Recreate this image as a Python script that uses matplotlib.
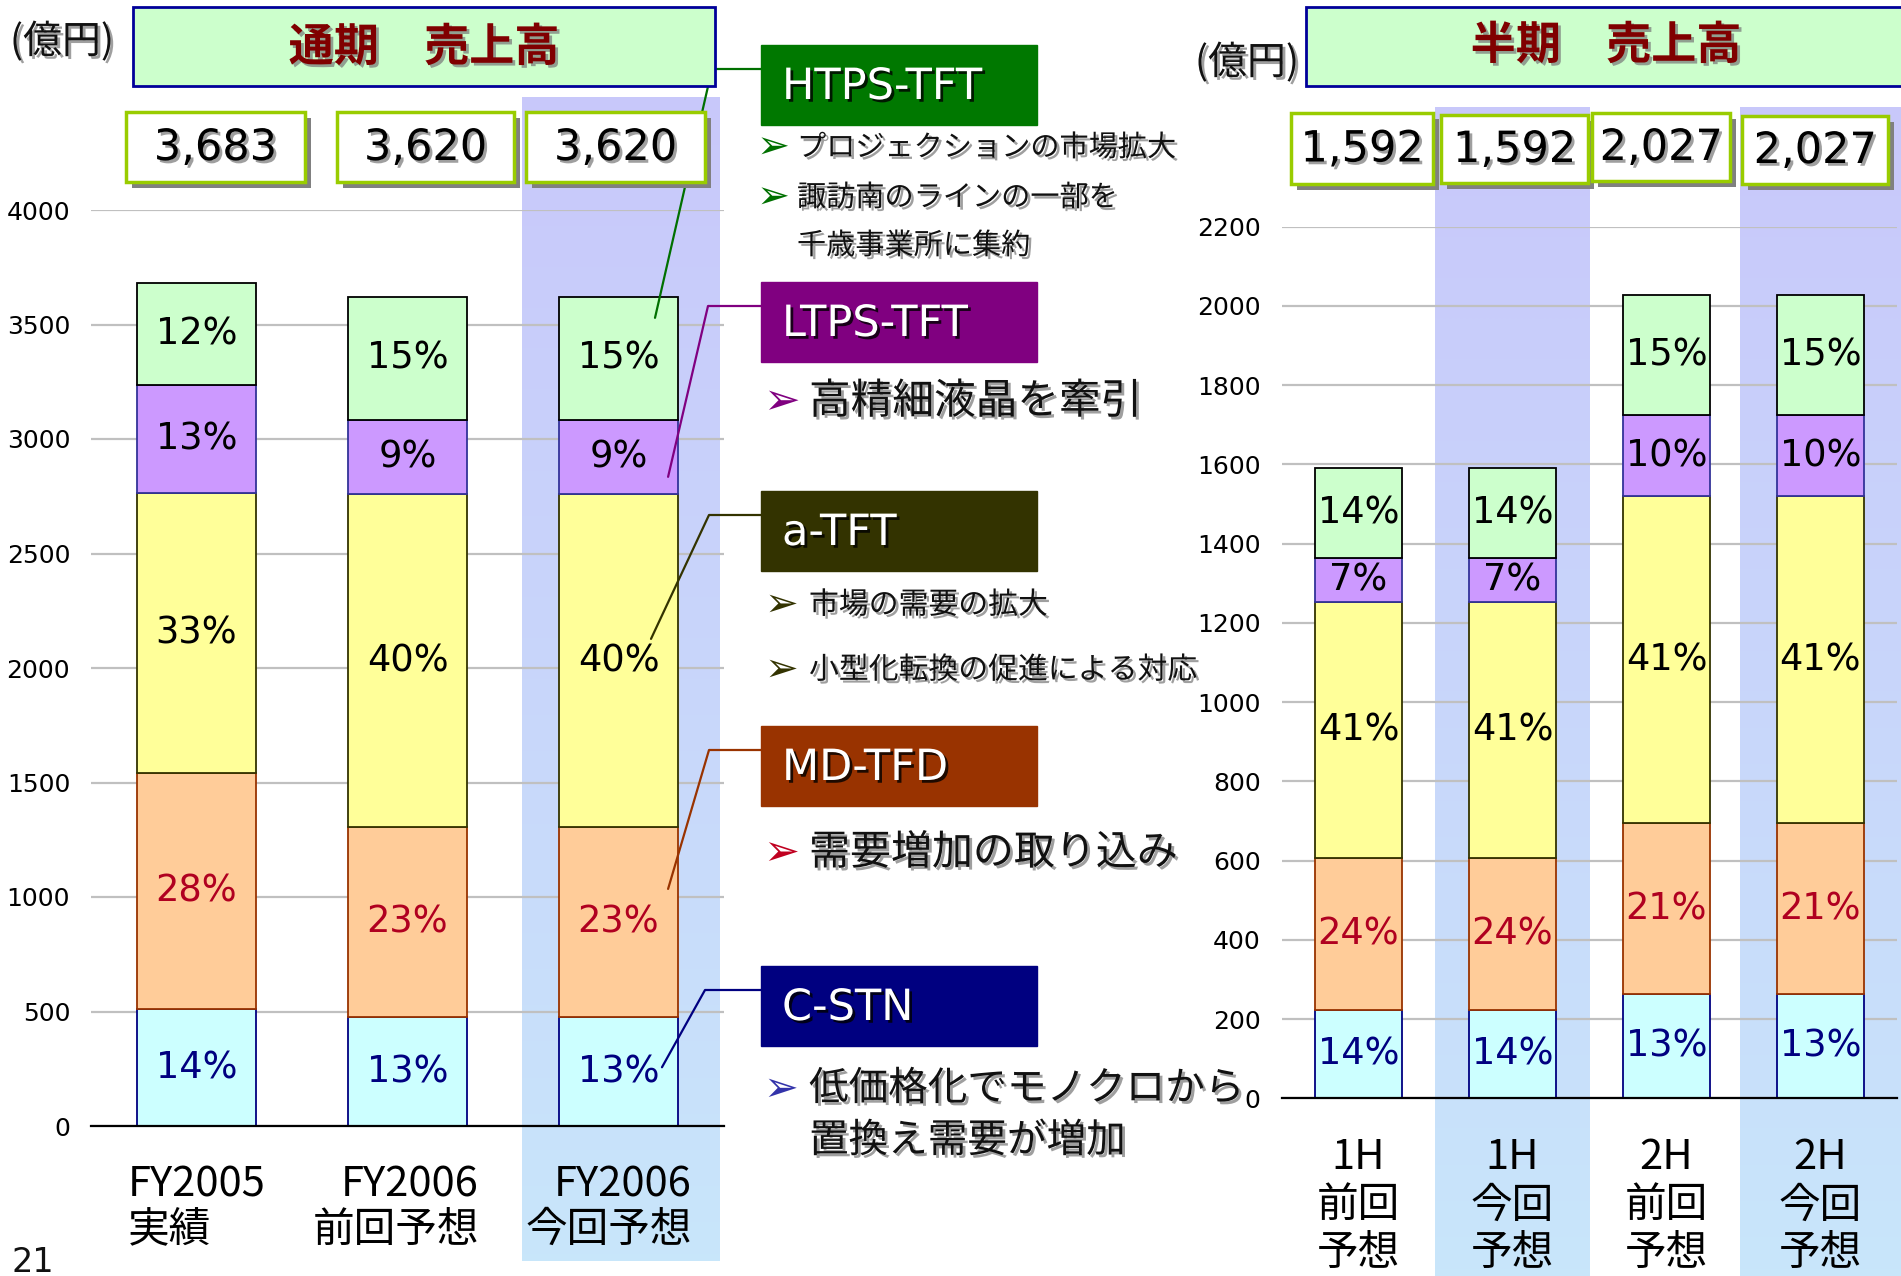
import numpy as np
import matplotlib
matplotlib.use("Agg")
import matplotlib.pyplot as plt
from matplotlib.patches import Rectangle, ConnectionPatch
import matplotlib.patheffects as pe
from matplotlib.colors import LinearSegmentedColormap
from matplotlib.transforms import ScaledTranslation

# ---------------- data ----------------
annual_categories = ["FY2005\n実績", "FY2006\n前回予想", "FY2006\n今回予想"]
annual_totals = [3683, 3620, 3620]
annual_cstn = [510, 475, 475]
annual_md = [1030, 830, 830]
annual_atft = [1225, 1455, 1455]
annual_ltps = [470, 325, 325]
annual_htps = [448, 535, 535]
annual_pct_cstn = [14, 13, 13]
annual_pct_md = [28, 23, 23]
annual_pct_atft = [33, 40, 40]
annual_pct_ltps = [13, 9, 9]
annual_pct_htps = [12, 15, 15]

half_categories = ["1H\n前回\n予想", "1H\n今回\n予想", "2H\n前回\n予想", "2H\n今回\n予想"]
half_totals = [1592, 1592, 2027, 2027]
half_cstn = [222, 222, 264, 264]
half_md = [385, 385, 430, 430]
half_atft = [645, 645, 826, 826]
half_ltps = [112, 112, 205, 205]
half_htps = [228, 228, 302, 302]
half_pct_cstn = [14, 14, 13, 13]
half_pct_md = [24, 24, 21, 21]
half_pct_atft = [41, 41, 41, 41]
half_pct_ltps = [7, 7, 10, 10]
half_pct_htps = [14, 14, 15, 15]

segment_names = ["C-STN", "MD-TFD", "a-TFT", "LTPS-TFT", "HTPS-TFT"]
bullets_htps = ["プロジェクションの市場拡大", "諏訪南のラインの一部を", "千歳事業所に集約"]
bullets_ltps = ["高精細液晶を牽引"]
bullets_atft = ["市場の需要の拡大", "小型化転換の促進による対応"]
bullets_md = ["需要増加の取り込み"]
bullets_cstn = ["低価格化でモノクロから", "置換え需要が増加"]

# ---------------- styles ----------------
JP = ["Noto Sans CJK JP", "DejaVu Sans"]
seg_fill = ["#CCFFFF", "#FFCC99", "#FFFF99", "#CC99FF", "#CCFFCC"]
seg_edge = ["#000080", "#993300", "#333300", "#333399", "#000000"]
pct_color = ["#000080", "#B00020", "#000000", "#000000", "#000000"]
box_color = ["#000080", "#993300", "#333300", "#800080", "#007800"]
line_color = ["#000080", "#993300", "#333300", "#800080", "#007000"]

W, H = 1901, 1276
fig = plt.figure(figsize=(W / 100, H / 100), dpi=100)

def px_axes(x0, x1, y_top, y_bot, **kw):
    return fig.add_axes([x0 / W, 1 - y_bot / H, (x1 - x0) / W, (y_bot - y_top) / H], **kw)

# background layer (highlight bands)
ax_bg = fig.add_axes([0, 0, 1, 1], zorder=0)
ax_bg.set_xlim(0, W)
ax_bg.set_ylim(H, 0)
ax_bg.axis("off")
band_cmap = LinearSegmentedColormap.from_list("band", ["#C8C8FA", "#C8D6FA", "#C8E6FA"])
grad = np.linspace(0, 1, 256).reshape(-1, 1)
for (x0, x1, y0, y1) in [(522, 720, 97, 1261), (1435, 1590, 107, 1276), (1740, 1901, 107, 1276)]:
    ax_bg.imshow(grad, extent=(x0, x1, y1, y0), cmap=band_cmap, aspect="auto",
                 origin="upper", interpolation="bilinear")
ax_bg.set_xlim(0, W)
ax_bg.set_ylim(H, 0)

# ---------------- chart axes ----------------
axL = px_axes(91, 724, 210, 1126, zorder=1)
axR = px_axes(1281.5, 1897.4, 226.7, 1098.4, zorder=1)

def stacked(ax, cats, layers, pcts, ymax, step, tick_fs):
    n = len(cats)
    x = np.arange(n)
    bottom = np.zeros(n)
    for i, (vals, pc) in enumerate(zip(layers, pcts)):
        vals = np.asarray(vals, dtype=float)
        ax.bar(x, vals, 0.56, bottom=bottom, color=seg_fill[i], edgecolor=seg_edge[i],
               linewidth=1.3, zorder=2)
        for xi, b, v, p in zip(x, bottom, vals, pc):
            ax.text(xi, b + v / 2, f"{p}%", ha="center", va="center", fontsize=26.5,
                    color=pct_color[i], family="DejaVu Sans", zorder=3)
        bottom = bottom + vals
    ax.set_xlim(-0.5, n - 0.5)
    ax.set_ylim(0, ymax)
    ax.set_yticks(np.arange(0, ymax + 1, step))
    ax.yaxis.grid(True, color="#C0C0C0", linewidth=1.6, zorder=0)
    ax.set_axisbelow(True)
    ax.patch.set_alpha(0)
    for s in ["top", "right", "left"]:
        ax.spines[s].set_visible(False)
    ax.spines["bottom"].set_linewidth(1.6)
    ax.tick_params(axis="y", length=0, pad=15, labelsize=tick_fs)
    for lbl in ax.get_yticklabels():
        lbl.set_family("DejaVu Sans")
    ax.set_xticks(x)
    ax.tick_params(axis="x", length=0, pad=28)
    return bottom

stacked(axL, annual_categories,
        [annual_cstn, annual_md, annual_atft, annual_ltps, annual_htps],
        [annual_pct_cstn, annual_pct_md, annual_pct_atft, annual_pct_ltps, annual_pct_htps],
        4000, 500, 18)
axL.set_xticklabels(annual_categories, fontsize=30, family=JP, linespacing=1.12)
for lbl, ma, dx in zip(axL.get_xticklabels(), ["left", "right", "right"], [0, -12, -10]):
    lbl.set_multialignment(ma)
    lbl.set_transform(lbl.get_transform() + ScaledTranslation(dx / 100, 0, fig.dpi_scale_trans))

stacked(axR, half_categories,
        [half_cstn, half_md, half_atft, half_ltps, half_htps],
        [half_pct_cstn, half_pct_md, half_pct_atft, half_pct_ltps, half_pct_htps],
        2200, 200, 18)
axR.set_xticklabels(half_categories, fontsize=30, family=JP, linespacing=1.22)

# ---------------- overlay ----------------
ov = fig.add_axes([0, 0, 1, 1], zorder=3)
ov.set_xlim(0, W)
ov.set_ylim(H, 0)
ov.axis("off")
ov.patch.set_alpha(0)

shadow_txt = [pe.SimplePatchShadow(offset=(2, -2), shadow_rgbFace="#777777", alpha=0.7), pe.Normal()]
shadow_w = [pe.SimplePatchShadow(offset=(2, -2), shadow_rgbFace="#000000", alpha=0.8), pe.Normal()]

# title boxes
for (x0, x1, y0, y1) in [(133, 715, 7, 86), (1306, 1910, 7, 86)]:
    ov.add_patch(Rectangle((x0, y0), x1 - x0, y1 - y0, facecolor="#CCFFCC",
                           edgecolor="#000099", linewidth=2, zorder=5))
ov.text(424, 48, "通期　売上高", ha="center", va="center", fontsize=32.5,
        fontweight="bold", color="#800000", family=JP, zorder=6, path_effects=shadow_txt)
ov.text(1606, 46, "半期　売上高", ha="center", va="center", fontsize=32.5,
        fontweight="bold", color="#800000", family=JP, zorder=6, path_effects=shadow_txt)
ov.text(62, 42, "(億円)", ha="center", va="center", fontsize=28, family=JP, color="#111111",
        zorder=6, path_effects=shadow_txt)
ov.text(1247, 63, "(億円)", ha="center", va="center", fontsize=28, family=JP, color="#111111",
        zorder=6, path_effects=shadow_txt)

# value boxes
val_boxes_L = [(126, 305, 112, 182), (337, 514, 112, 182), (526, 705, 112, 182)]
val_boxes_R = [(1291, 1433, 113, 184), (1441, 1588, 115, 183), (1592, 1730, 113, 181), (1742, 1888, 116, 184)]
for boxes, totals in [(val_boxes_L, annual_totals), (val_boxes_R, half_totals)]:
    for (x0, x1, y0, y1), tot in zip(boxes, totals):
        ov.add_patch(Rectangle((x0 + 6, y0 + 6), x1 - x0, y1 - y0, facecolor="#808080",
                               edgecolor="none", zorder=5))
        ov.add_patch(Rectangle((x0, y0), x1 - x0, y1 - y0, facecolor="white",
                               edgecolor="#99CC00", linewidth=2.5, zorder=5))
        ov.text((x0 + x1) / 2, (y0 + y1) / 2 + 1, f"{tot:,}", ha="center", va="center",
                fontsize=31, family="DejaVu Sans", color="#000000", zorder=6,
                path_effects=shadow_txt)

# legend boxes (top y in px), order = segment order
legend_top = [966, 726, 491, 282, 45]
for i, top in enumerate(legend_top):
    ov.add_patch(Rectangle((761, top), 276, 80, facecolor=box_color[i],
                           edgecolor=box_color[i], linewidth=1, zorder=5))
    ov.text(782, top + 42, segment_names[i], ha="left", va="center", fontsize=31,
            color="white", family="DejaVu Sans", zorder=6, path_effects=shadow_w)

# connector lines: elbow x, end point as (bar offset, fraction of segment)
conn_end = [(0.206, 0.54), (0.235, 0.675), (0.154, 0.565), (0.235, 0.23), (0.173, 0.83)]
conn_elbow_x = [705, 709, 709, 708, 712]
idx = 2
layersL = [annual_cstn, annual_md, annual_atft, annual_ltps, annual_htps]
cum = 0.0
for i in range(5):
    h = layersL[i][idx]
    ey = cum + conn_end[i][1] * h
    ex = idx + conn_end[i][0]
    cum += h
    ly = legend_top[i] + 24
    ov.plot([conn_elbow_x[i], 761], [ly, ly], color=line_color[i], lw=1.6, zorder=4,
            solid_capstyle="butt")
    cp = ConnectionPatch(xyA=(conn_elbow_x[i], ly), coordsA=ov.transData,
                         xyB=(ex, ey), coordsB=axL.transData,
                         color=line_color[i], lw=1.6, zorder=4)
    ov.add_artist(cp)

# bullets
def bullet(xa, xt, y, txt, fs, col, arrow=True, scale=1.35):
    if arrow:
        ov.text(xa, y, "➢", ha="center", va="center", fontsize=fs * scale, color=col,
                family="DejaVu Sans", zorder=6)
    ov.text(xt, y, txt, ha="left", va="center", fontsize=fs, color="#111111",
            family=JP, zorder=6, path_effects=shadow_txt)

bullet(773, 797, 148, bullets_htps[0], 21, "#007000")
bullet(773, 797, 198, bullets_htps[1], 21, "#007000")
bullet(773, 797, 246, bullets_htps[2], 21, "#007000", arrow=False)
bullet(781, 809, 402, bullets_ltps[0], 30, "#800080", scale=1.05)
bullet(781, 809, 605, bullets_atft[0], 21.5, "#333300")
bullet(781, 809, 670, bullets_atft[1], 21.5, "#333300")
bullet(781, 809, 853, bullets_md[0], 29.5, "#C00020", scale=1.05)
bullet(781, 809, 1089, bullets_cstn[0], 28.5, "#3333AA", scale=1.05)
bullet(781, 809, 1141, bullets_cstn[1], 28.5, "#3333AA", arrow=False)

# page number
ov.text(12, 1262, "21", ha="left", va="center", fontsize=24, family="DejaVu Sans", color="#111111")

fig.savefig("out.png", dpi=100)
